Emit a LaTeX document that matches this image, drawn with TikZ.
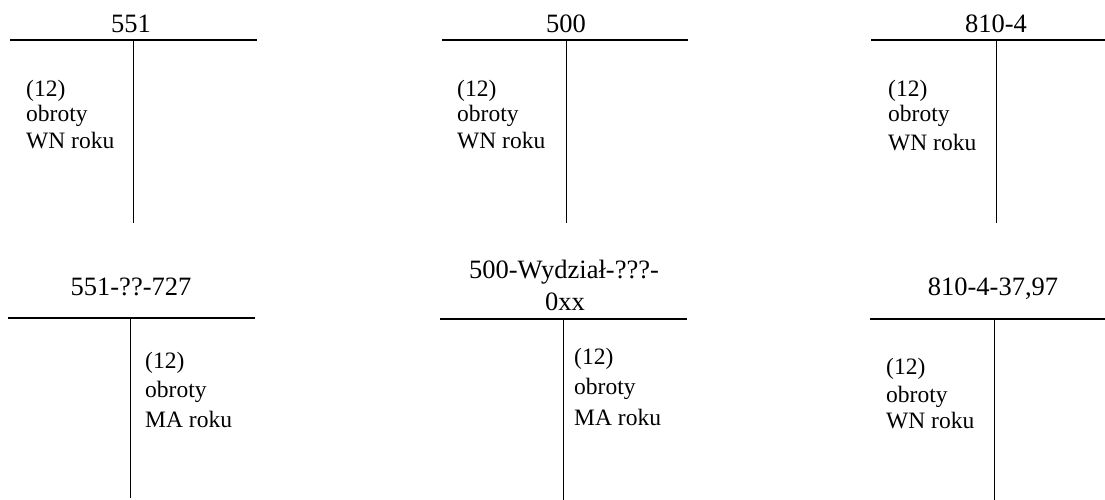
\documentclass[tikz,border=0pt]{standalone}
\usepackage{fontspec}
\setmainfont{Liberation Serif}
\begin{document}
\begin{tikzpicture}[x=1pt,y=-1pt,
  title/.style={font=\fontsize{26.5}{30}\selectfont, inner sep=0pt, anchor=base},
  body/.style={font=\fontsize{23.5}{26}\selectfont, inner sep=0pt, anchor=base west},
  rule/.style={line width=1.3pt},
  stem/.style={line width=1pt}]
\useasboundingbox (0,0) rectangle (1105,500);

% Account 1: 551
\coordinate (a1l) at (10,40); \coordinate (a1r) at (257,40);
\coordinate (a1t) at (133,40); \coordinate (a1b) at (133,223);
\node[title] (a1n) at (131,33) {551};
\draw[rule] (a1l) -- (a1r); \draw[stem] (a1t) -- (a1b);
\node[body] (a1x) at (26,97) {(12)};
\node[body] (a1y) at (26,122) {obroty};
\node[body] (a1z) at (26,148) {WN roku};

% Account 2: 500
\coordinate (a2l) at (442,40); \coordinate (a2r) at (688,40);
\coordinate (a2t) at (566,40); \coordinate (a2b) at (566,223);
\node[title] (a2n) at (566,33) {500};
\draw[rule] (a2l) -- (a2r); \draw[stem] (a2t) -- (a2b);
\node[body] (a2x) at (457,97) {(12)};
\node[body] (a2y) at (457,122) {obroty};
\node[body] (a2z) at (457,149) {WN roku};

% Account 3: 810-4
\coordinate (a3l) at (871,40); \coordinate (a3r) at (1105,40);
\coordinate (a3t) at (996,40); \coordinate (a3b) at (996,223);
\node[title] (a3n) at (996,33) {810-4};
\draw[rule] (a3l) -- (a3r); \draw[stem] (a3t) -- (a3b);
\node[body] (a3x) at (888,97) {(12)};
\node[body] (a3y) at (888,122) {obroty};
\node[body] (a3z) at (888,150) {WN roku};

% Account 4: 551-??-727
\coordinate (a4l) at (8,318); \coordinate (a4r) at (255,318);
\coordinate (a4t) at (130,318); \coordinate (a4b) at (130,498);
\node[title] (a4n) at (131,295) {551-??-727};
\draw[rule] (a4l) -- (a4r); \draw[stem] (a4t) -- (a4b);
\node[body] (a4x) at (145,368) {(12)};
\node[body] (a4y) at (145,397) {obroty};
\node[body] (a4z) at (145,427) {MA roku};

% Account 5: 500-Wydzial-???-0xx
\coordinate (a5l) at (440,319); \coordinate (a5r) at (687,319);
\coordinate (a5t) at (563,319); \coordinate (a5b) at (563,500);
\node[title] (a5n) at (564,278) {500-Wydział-???-};
\node[title] (a5m) at (565,310) {0xx};
\draw[rule] (a5l) -- (a5r); \draw[stem] (a5t) -- (a5b);
\node[body] (a5x) at (574,364) {(12)};
\node[body] (a5y) at (574,394) {obroty};
\node[body] (a5z) at (574,425) {MA roku};

% Account 6: 810-4-37,97
\coordinate (a6l) at (870,319); \coordinate (a6r) at (1105,319);
\coordinate (a6t) at (994,319); \coordinate (a6b) at (994,500);
\node[title] (a6n) at (993,295) {810-4-37,97};
\draw[rule] (a6l) -- (a6r); \draw[stem] (a6t) -- (a6b);
\node[body] (a6x) at (886,374) {(12)};
\node[body] (a6y) at (886,402) {obroty};
\node[body] (a6z) at (886,428) {WN roku};
\end{tikzpicture}
\end{document}
